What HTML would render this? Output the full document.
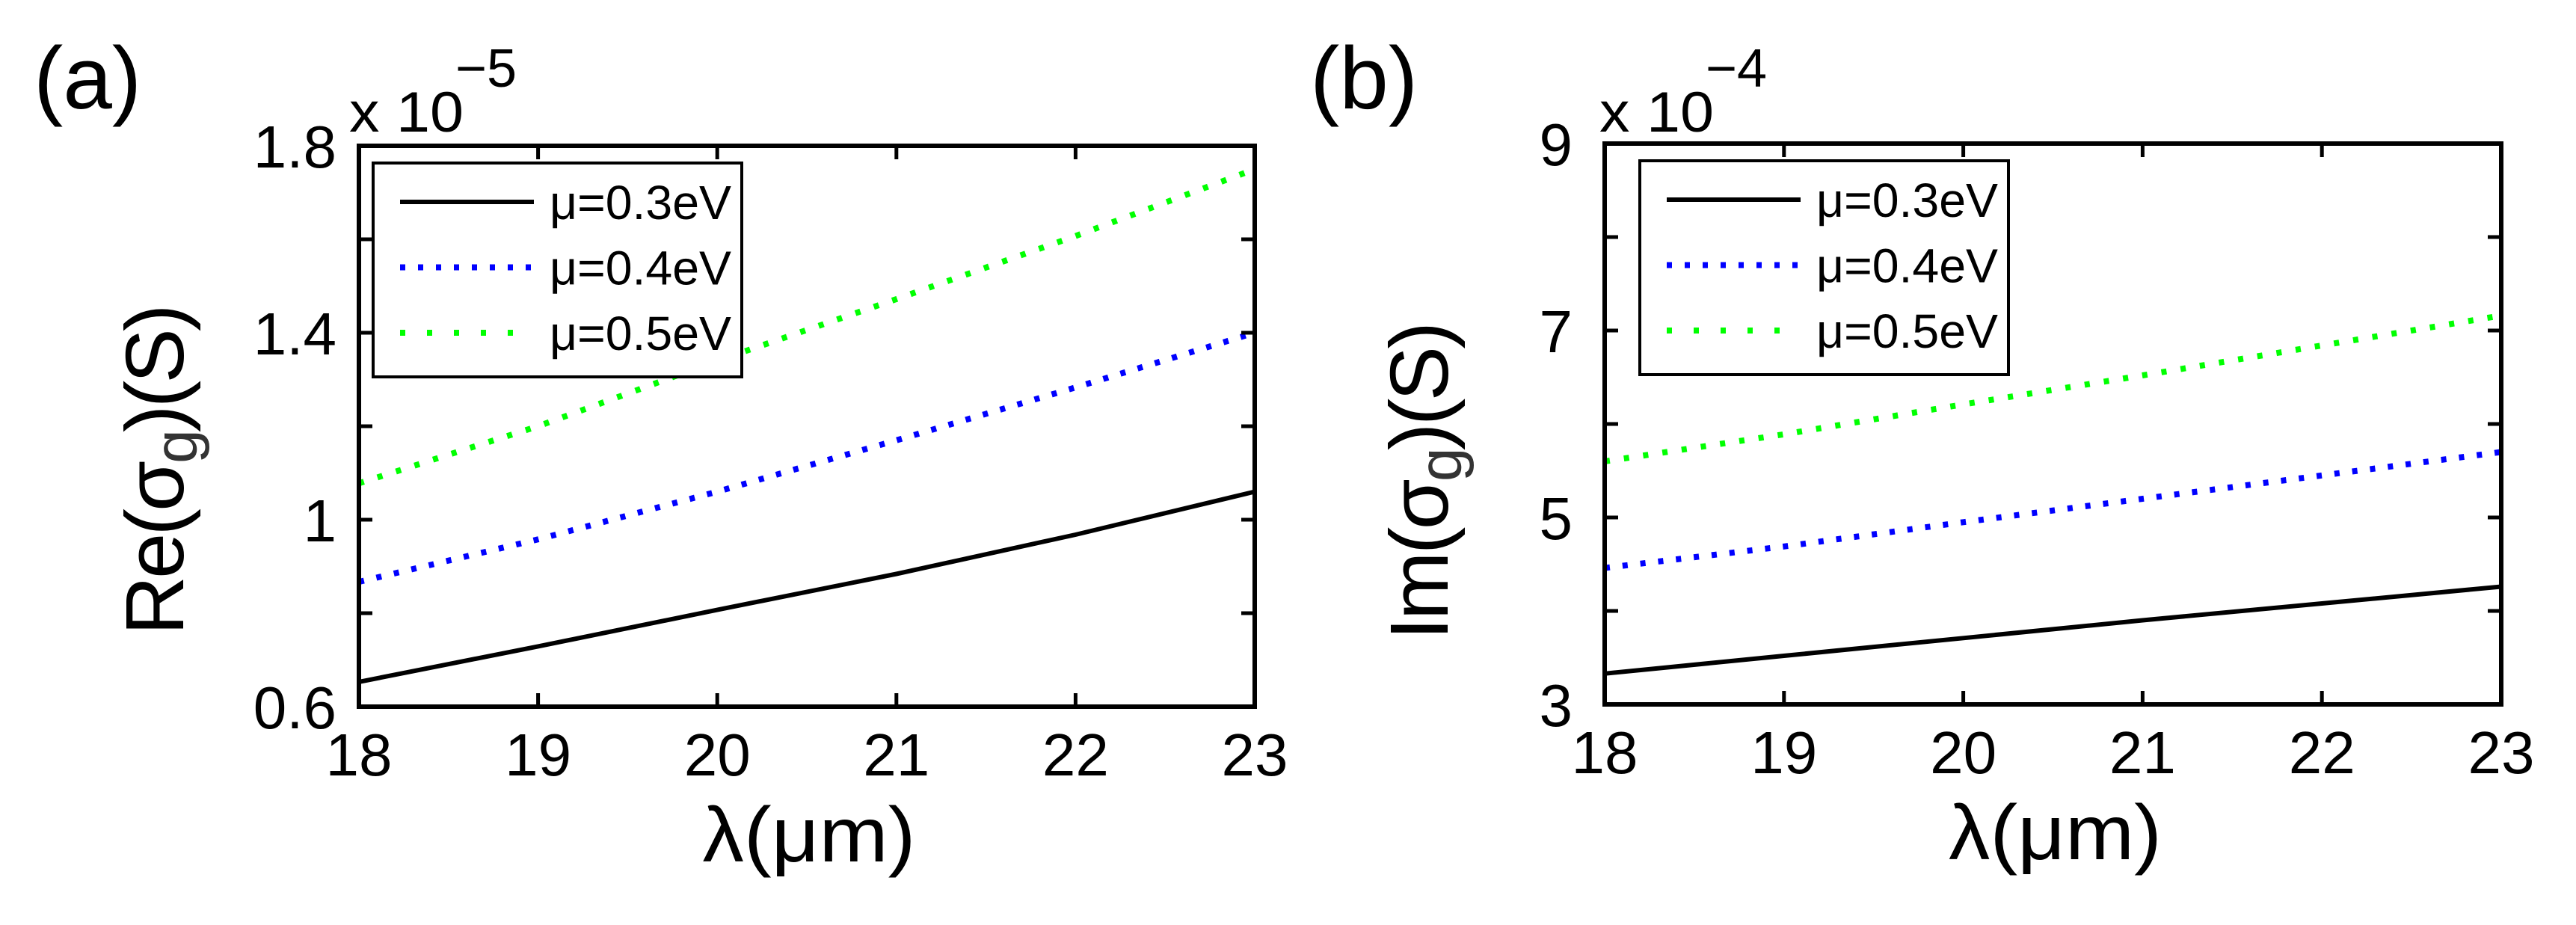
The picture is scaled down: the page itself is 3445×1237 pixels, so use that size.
<!DOCTYPE html>
<html><head><meta charset="utf-8"><style>
html,body{margin:0;padding:0;background:#fff;}
svg{display:block;font-family:"Liberation Sans",sans-serif;}
</style></head><body>
<svg id="fig" width="3445" height="1237" viewBox="0 0 3445 1237" xmlns="http://www.w3.org/2000/svg"></svg>
<script>
const xValues = [18, 19, 20, 21, 22, 23];
const xTickLabels = ["18", "19", "20", "21", "22", "23"];
const seriesNames = ["μ=0.3eV", "μ=0.4eV", "μ=0.5eV"];
// Panel (a): Re(sigma_g), units 1e-5 S
const reBlack = [0.653, 0.729, 0.807, 0.884, 0.968, 1.06];
const reBlue = [0.867, 0.958, 1.06, 1.17, 1.283, 1.40];
const reGreen = [1.078, 1.20, 1.34, 1.472, 1.607, 1.75];
const reYTicks = [0.6, 0.8, 1.0, 1.2, 1.4, 1.6, 1.8];
const reYTickLabels = ["0.6", "", "1", "", "1.4", "", "1.8"];
// Panel (b): Im(sigma_g), units 1e-4 S
const imBlack = [3.33, 3.52, 3.71, 3.90, 4.08, 4.26];
const imBlue = [4.46, 4.69, 4.95, 5.20, 5.45, 5.70];
const imGreen = [5.60, 5.89, 6.21, 6.52, 6.84, 7.16];
const imYTicks = [3, 4, 5, 6, 7, 8, 9];
const imYTickLabels = ["3", "", "5", "", "7", "", "9"];

const NS = "http://www.w3.org/2000/svg";
const svg = document.getElementById("fig");
function mk(tag, attrs, parent, text) {
  const e = document.createElementNS(NS, tag);
  for (const k in attrs) e.setAttribute(k, attrs[k]);
  if (text !== undefined) e.textContent = text;
  (parent || svg).appendChild(e);
  return e;
}

function panel(cfg) {
  const g = mk("g", {});
  
  
  const L = cfg.L, R = cfg.R, T = cfg.T, B = cfg.B;
  const sx = v => L + (v - 18) / 5 * (R - L);
  const sy = v => B - (v - cfg.ymin) / (cfg.ymax - cfg.ymin) * (B - T);

  const colors = ["#000", "#0000ff", "#00ff00"];
  const dashes = [null, "7 17", "7 19"];
  cfg.series.forEach((vals, i) => {
    const pts = vals.map((v, j) => sx(xValues[j]).toFixed(1) + "," + sy(v).toFixed(1)).join(" ");
    const a = {points: pts, fill: "none", stroke: colors[i], "stroke-width": i == 0 ? 6 : 8};
    if (dashes[i]) a["stroke-dasharray"] = dashes[i];
    const pl = mk("polyline", a, g);
    
    
  });

  const box = mk("rect", {x: L, y: T, width: R - L, height: B - T, fill: "none", stroke: "#000", "stroke-width": 6}, g);
  
  

  xValues.forEach((v, i) => {
    const x = sx(v);
    mk("line", {x1: x, y1: B, x2: x, y2: B - 18, stroke: "#000", "stroke-width": 5}, g);
    mk("line", {x1: x, y1: T, x2: x, y2: T + 18, stroke: "#000", "stroke-width": 5}, g);
    const t = mk("text", {x: x, y: B + 92, "font-size": 80, "text-anchor": "middle"}, g, xTickLabels[i]);
    
    
  });
  cfg.yticks.forEach((v, i) => {
    const y = sy(v);
    mk("line", {x1: L, y1: y, x2: L + 18, y2: y, stroke: "#000", "stroke-width": 5}, g);
    mk("line", {x1: R, y1: y, x2: R - 18, y2: y, stroke: "#000", "stroke-width": 5}, g);
    if (cfg.ylabels[i]) {
      const t = mk("text", {x: cfg.ylabX, y: y + 29, "font-size": 80, "text-anchor": "end"}, g, cfg.ylabels[i]);
      
      
    }
  });

  const lg = mk("g", {}, g);
  
  
  mk("rect", {x: cfg.lx, y: cfg.ly, width: 493, height: 286, fill: "#fff", stroke: "#000", "stroke-width": 4}, lg);
  const legDash = [null, "7 17", "7 29"];
  seriesNames.forEach((n, i) => {
    const y = cfg.ly + 52 + i * 87.5;
    const a = {x1: cfg.lx + 36, y1: y, x2: cfg.lx + 215, y2: y, stroke: colors[i], "stroke-width": i == 0 ? 6 : 8};
    if (legDash[i]) a["stroke-dasharray"] = legDash[i];
    const ln = mk("line", a, lg);
    
    
    const t = mk("text", {x: cfg.lx + 236, y: y + 23, "font-size": 64, textLength: 243, lengthAdjust: "spacingAndGlyphs"}, lg, n);
    
    
  });

  const xl = mk("text", {x: (L + R) / 2 + 3, y: B + 207, "font-size": 104, "text-anchor": "middle", textLength: 285, lengthAdjust: "spacingAndGlyphs"}, g, "λ(μm)");
  
  

  const yl = mk("text", {transform: `translate(${cfg.ytx},${cfg.yty}) rotate(-90)`, "font-size": 110, "text-anchor": "middle", textLength: cfg.ylen, lengthAdjust: "spacing"}, g);
  
  
  mk("tspan", {}, yl, cfg.ypre + "(σ");
  mk("tspan", {dy: 18, "font-size": 82, fill: "#333"}, yl, "g");
  mk("tspan", {dy: -18}, yl, ")(S)");

  const ex = mk("text", {x: cfg.ex, y: 176, "font-size": 76, textLength: 153, lengthAdjust: "spacingAndGlyphs"}, g, "x 10");
  
  
  mk("text", {x: cfg.ex + 142, y: 116, "font-size": 72}, g, cfg.exp);

  const pl = mk("text", {x: cfg.px, y: 145, "font-size": 118}, g, cfg.plabel);
  
  
}

panel({name: "panel-a-real", L: 480, R: 1678, T: 195, B: 945, ymin: 0.6, ymax: 1.8,
  series: [reBlack, reBlue, reGreen], yticks: reYTicks, ylabels: reYTickLabels, ylabX: 450,
  lx: 499, ly: 218, ytx: 245, yty: 628, ylen: 443, ypre: "Re", ex: 467, exp: "−5", px: 45, plabel: "(a)"});
panel({name: "panel-b-imag", L: 2146, R: 3345, T: 192, B: 942, ymin: 3, ymax: 9,
  series: [imBlack, imBlue, imGreen], yticks: imYTicks, ylabels: imYTickLabels, ylabX: 2103,
  lx: 2193, ly: 215, ytx: 1936, yty: 643, ylen: 426, ypre: "Im", ex: 2139, exp: "−4", px: 1752, plabel: "(b)"});
</script>
</body></html>
